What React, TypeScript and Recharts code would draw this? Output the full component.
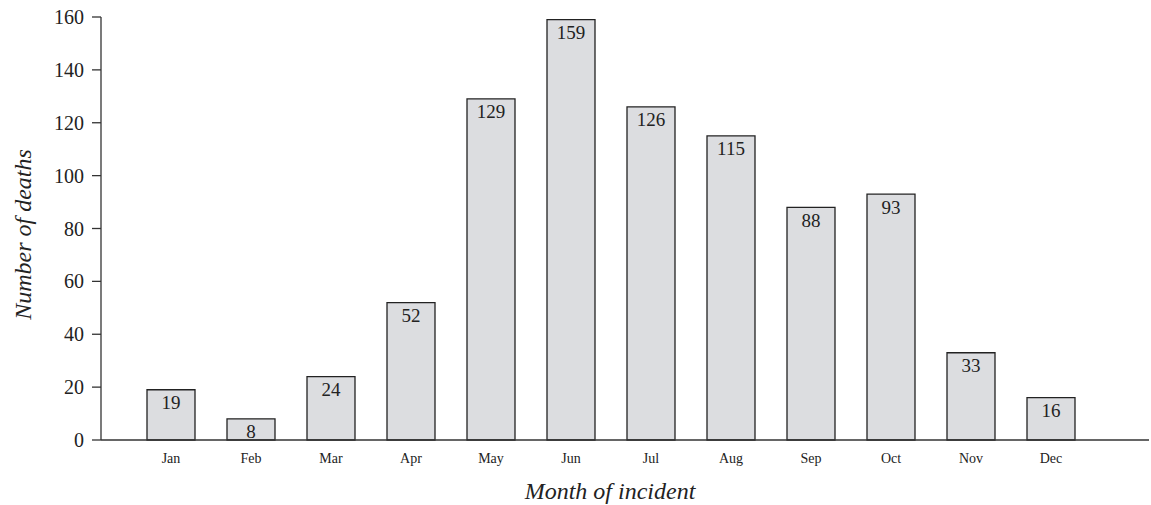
import React from 'react';
import { BarChart, Bar, XAxis, YAxis, LabelList, Label } from 'recharts';

const months = ['Jan', 'Feb', 'Mar', 'Apr', 'May', 'Jun', 'Jul', 'Aug', 'Sep', 'Oct', 'Nov', 'Dec'];
const deaths = [19, 8, 24, 52, 129, 159, 126, 115, 88, 93, 33, 16];
const yTicks = [0, 20, 40, 60, 80, 100, 120, 140, 160];

const FONT = '"Liberation Serif", "DejaVu Serif", serif';
const INK = '#333';

export default function App() {
  const data = months.map((m, i) => ({ month: m, deaths: deaths[i] }));

  return (
    <div style={{ position: 'absolute', left: 0, top: 0, width: 1151, height: 505, background: '#fff' }}>
      <BarChart
        width={1151}
        height={505}
        data={data}
        margin={{ top: 17, right: 2, bottom: 0, left: 0 }}
        barCategoryGap="20%"
      >
        <XAxis
          dataKey="month"
          height={65}
          padding={{ left: 30, right: 58 }}
          axisLine={{ stroke: INK, strokeWidth: 1.3 }}
          tickLine={false}
          tickSize={0}
          tickMargin={13}
          tick={{ fill: '#222', fontSize: 14, fontFamily: FONT }}
          interval={0}
        >
          <Label
            value="Month of incident"
            position="insideBottom"
            offset={6}
            dx={-15}
            style={{ fill: '#222', fontSize: 24, fontStyle: 'italic', fontFamily: FONT }}
          />
        </XAxis>
        <YAxis
          width={101}
          domain={[0, 160]}
          ticks={yTicks}
          interval={0}
          axisLine={{ stroke: INK, strokeWidth: 1.3 }}
          tickLine={{ stroke: INK, strokeWidth: 1.3 }}
          tickSize={9}
          tickMargin={8}
          tick={{ fill: '#222', fontSize: 20, fontFamily: FONT }}
        >
          <Label
            value="Number of deaths"
            angle={-90}
            position="insideLeft"
            offset={22}
            dy={6}
            style={{ textAnchor: 'middle', fill: '#222', fontSize: 24, fontStyle: 'italic', fontFamily: FONT }}
          />
        </YAxis>
        <Bar dataKey="deaths" fill="#dcdde0" stroke="#222" strokeWidth={1.3} isAnimationActive={false}>
          <LabelList
            dataKey="deaths"
            position="insideTop"
            offset={6}
            style={{ fill: '#222', fontSize: 19, fontFamily: FONT }}
          />
        </Bar>
      </BarChart>
    </div>
  );
}
